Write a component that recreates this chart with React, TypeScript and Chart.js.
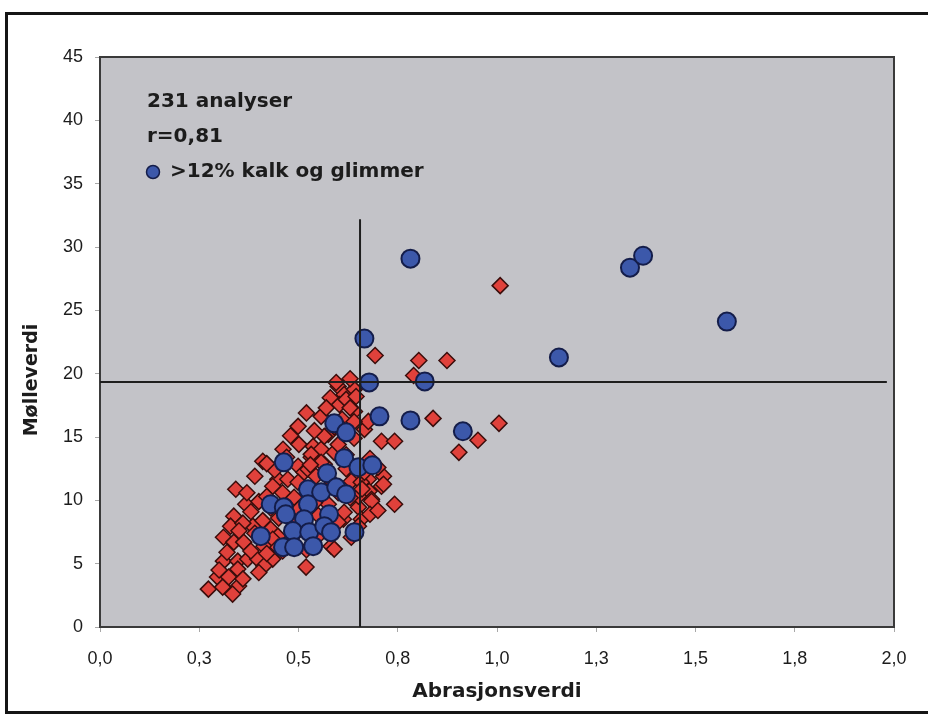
import React, { useEffect, useRef } from 'react';
import { Chart, registerables } from 'chart.js';

Chart.register(...registerables);

// ---- Data ----
const xTickLabels = ['0,0', '0,3', '0,5', '0,8', '1,0', '1,3', '1,5', '1,8', '2,0'];
const yTickLabels = ['0', '5', '10', '15', '20', '25', '30', '35', '40', '45'];

const xAxisTitle = 'Abrasjonsverdi';
const yAxisTitle = 'Mølleverdi';
const noteLines = ['231 analyser', 'r=0,81'];
const legendLabel = '>12% kalk og glimmer';

// samples with >12% calcite and mica (blue circles): [abrasjonsverdi, mølleverdi]
const blueSamples: [number, number][] = [
  [0.782, 29.08], [1.335, 28.37], [1.368, 29.31], [1.579, 24.11], [1.156, 21.28],
  [0.666, 22.77], [0.678, 19.31], [0.818, 19.39], [0.704, 16.63], [0.782, 16.31],
  [0.914, 15.45], [0.590, 16.08], [0.620, 15.37], [0.463, 13.00], [0.615, 13.32],
  [0.651, 12.61], [0.686, 12.77], [0.572, 12.14], [0.524, 10.87], [0.557, 10.64],
  [0.595, 11.03], [0.620, 10.48], [0.430, 9.69], [0.463, 9.46], [0.468, 8.90],
  [0.524, 9.69], [0.577, 8.90], [0.514, 8.51], [0.486, 7.57], [0.527, 7.49],
  [0.565, 7.96], [0.582, 7.49], [0.641, 7.49], [0.405, 7.17], [0.461, 6.30],
  [0.489, 6.30], [0.537, 6.38],
];

// other samples (red diamonds)
const redSamples: [number, number][] = [
  [0.600, 18.99], [0.615, 18.36], [0.641, 18.76], [0.641, 17.02], [0.603, 17.57],
  [0.557, 16.63], [0.499, 15.84], [0.575, 15.21], [0.666, 15.60], [0.676, 16.23],
  [0.709, 14.66], [0.742, 14.66], [0.461, 14.03], [0.410, 13.08], [0.501, 14.42],
  [0.537, 14.26], [0.557, 14.03], [0.532, 13.40], [0.565, 12.84], [0.499, 12.69],
  [0.514, 12.21], [0.448, 11.66], [0.473, 11.66], [0.435, 11.11], [0.499, 11.43],
  [0.641, 11.90], [0.676, 11.66], [0.714, 11.90], [0.678, 10.72], [0.709, 11.11],
  [0.342, 10.87], [0.367, 9.69], [0.473, 10.09], [0.489, 10.24], [0.684, 10.09],
  [0.742, 9.69], [0.651, 9.46], [0.658, 8.51], [0.337, 8.75], [0.329, 7.96],
  [0.385, 7.96], [0.430, 7.72], [0.448, 7.17], [0.613, 8.51], [0.651, 7.96],
  [0.311, 7.09], [0.337, 6.70], [0.362, 6.70], [0.435, 6.93], [0.413, 6.38],
  [0.448, 6.30], [0.582, 6.38], [0.311, 5.20], [0.347, 5.20], [0.372, 5.36],
  [0.397, 5.36], [0.435, 5.36], [0.413, 4.81], [0.347, 4.57], [0.519, 4.73],
  [0.296, 3.94], [0.324, 3.94], [0.273, 2.99], [0.309, 3.15], [0.349, 3.23],
  [0.334, 2.60],
  [0.693, 21.43], [0.803, 21.04], [0.874, 21.04], [0.790, 19.86], [0.839, 16.47],
  [1.005, 16.08], [0.952, 14.74], [0.904, 13.79], [1.008, 26.95],
  [0.595, 19.30], [0.620, 17.97], [0.630, 19.60], [0.580, 18.10], [0.645, 18.20],
  [0.565, 15.05], [0.532, 13.63], [0.590, 13.79], [0.557, 13.00], [0.524, 12.45],
  [0.544, 11.90], [0.633, 11.50], [0.658, 11.43], [0.666, 12.21], [0.714, 11.27],
  [0.684, 9.93], [0.651, 10.32], [0.615, 9.06], [0.600, 8.27], [0.575, 9.69],
  [0.557, 7.96], [0.539, 7.17], [0.633, 7.09], [0.590, 6.15],
  [0.470, 9.00], [0.500, 9.30], [0.540, 9.80], [0.560, 10.50], [0.520, 10.90],
  [0.450, 8.60], [0.490, 8.20], [0.550, 8.80], [0.600, 10.60], [0.580, 11.60],
  [0.620, 12.50], [0.530, 12.80], [0.460, 10.60], [0.430, 9.40], [0.410, 8.40],
  [0.390, 7.40], [0.400, 9.90], [0.380, 9.10], [0.360, 8.20], [0.420, 10.30],
  [0.440, 12.40], [0.470, 13.40], [0.600, 14.40], [0.620, 13.60], [0.680, 13.30],
  [0.700, 12.60], [0.640, 14.90], [0.590, 15.80], [0.610, 16.40], [0.540, 15.50],
  [0.660, 10.90], [0.630, 10.20], [0.680, 8.90], [0.700, 9.20], [0.570, 8.40],
  [0.500, 7.60], [0.460, 6.00], [0.520, 6.10], [0.550, 7.20], [0.480, 6.90],
  [0.380, 6.00], [0.400, 4.30], [0.300, 4.50], [0.360, 3.80], [0.420, 5.80],
  [0.320, 5.90], [0.350, 7.60], [0.370, 10.60], [0.390, 11.90], [0.420, 12.90],
  [0.480, 15.10], [0.520, 16.90], [0.570, 17.30], [0.600, 16.00], [0.630, 17.30],
  [0.640, 16.20],
];

// reference lines (limit values)
const verticalLine: [number, number][] = [[0.655, 0], [0.655, 32.2]];
const horizontalLine: [number, number][] = [[0, 19.35], [1.982, 19.35]];

// ---- Styles ----
const BLUE = '#3c58aa';
const BLUE_EDGE = '#141d4a';
const RED = '#e0413b';
const RED_EDGE = '#3a0d0b';
const PLOT_BG = '#c3c3c8';
const TEXT = '#1c1c1c';
const BOLD_FONT = '"DejaVu Sans", "Liberation Sans", Arial, sans-serif';
const TICK_FONT = '"Liberation Sans", Arial, sans-serif';

const toPts = (arr: [number, number][]) => arr.map(([x, y]) => ({ x, y }));

const decorPlugin = {
  id: 'decor',
  beforeDraw(chart: any) {
    const { ctx, chartArea } = chart;
    const { left, top, right, bottom } = chartArea;
    ctx.save();
    ctx.fillStyle = PLOT_BG;
    ctx.fillRect(left, top, right - left, bottom - top);
    ctx.restore();
  },
  beforeDatasetsDraw(chart: any) {
    const { ctx, chartArea } = chart;
    const { left, top, right, bottom } = chartArea;
    ctx.save();
    ctx.strokeStyle = '#3a3a3a';
    ctx.lineWidth = 2;
    ctx.strokeRect(left, top, right - left, bottom - top);
    ctx.restore();
  },
  afterDraw(chart: any) {
    const { ctx, chartArea } = chart;
    const { left, top } = chartArea;
    ctx.save();
    ctx.fillStyle = TEXT;
    ctx.font = `bold 20px ${BOLD_FONT}`;
    ctx.textBaseline = 'middle';
    ctx.textAlign = 'left';
    ctx.fillText(noteLines[0], left + 47, top + 45);
    ctx.fillText(noteLines[1], left + 47, top + 80);
    // legend marker
    ctx.beginPath();
    ctx.arc(left + 53, top + 115, 6.5, 0, Math.PI * 2);
    ctx.fillStyle = BLUE;
    ctx.fill();
    ctx.lineWidth = 1.5;
    ctx.strokeStyle = BLUE_EDGE;
    ctx.stroke();
    ctx.fillStyle = TEXT;
    ctx.fillText(legendLabel, left + 70, top + 115);
    // y-axis title
    ctx.save();
    ctx.translate(32, 380);
    ctx.rotate(-Math.PI / 2);
    ctx.textAlign = 'center';
    ctx.font = `bold 19px ${BOLD_FONT}`;
    ctx.fillText(yAxisTitle, 0, 0);
    ctx.restore();
    ctx.restore();
  },
};

export default function App() {
  const canvasRef = useRef<HTMLCanvasElement | null>(null);

  useEffect(() => {
    if (!canvasRef.current) return;
    const chart = new Chart(canvasRef.current, {
      type: 'scatter',
      data: {
        datasets: [
          {
            type: 'line',
            data: toPts(verticalLine),
            showLine: true,
            borderColor: '#1e1e1e',
            borderWidth: 2,
            pointRadius: 0,
            fill: false,
          } as any,
          {
            type: 'line',
            data: toPts(horizontalLine),
            showLine: true,
            borderColor: '#1e1e1e',
            borderWidth: 2,
            pointRadius: 0,
            fill: false,
          } as any,
          {
            data: toPts(blueSamples),
            pointStyle: 'circle',
            pointRadius: 9,
            backgroundColor: BLUE,
            borderColor: BLUE_EDGE,
            borderWidth: 2,
          },
          {
            data: toPts(redSamples),
            pointStyle: 'rectRot',
            pointRadius: 8,
            backgroundColor: RED,
            borderColor: RED_EDGE,
            borderWidth: 1.5,
          },
        ],
      },
      options: {
        animation: false,
        responsive: false,
        events: [],
        layout: { padding: { left: 0, right: 34, top: 57, bottom: 0 } },
        plugins: {
          legend: { display: false },
          tooltip: { enabled: false },
        },
        scales: {
          x: {
            type: 'linear',
            min: 0,
            max: 2,
            afterFit: (scale: any) => { scale.height = 89; },
            ticks: {
              stepSize: 0.25,
              autoSkip: false,
              maxRotation: 0,
              padding: 16,
              color: TEXT,
              font: { family: TICK_FONT, size: 18 },
              callback: (_v: any, i: number) => xTickLabels[i],
            },
            grid: { drawOnChartArea: false, drawTicks: true, tickLength: 5, color: '#a8a8a8' },
            border: { display: false },
            title: {
              display: true,
              text: xAxisTitle,
              color: TEXT,
              font: { family: BOLD_FONT, size: 20, weight: 'bold' },
              padding: { top: 0, bottom: 12 },
            },
          },
          y: {
            type: 'linear',
            min: 0,
            max: 45,
            afterFit: (scale: any) => { scale.width = 100; },
            ticks: {
              stepSize: 5,
              autoSkip: false,
              padding: 12,
              color: TEXT,
              font: { family: TICK_FONT, size: 18 },
              callback: (_v: any, i: number) => yTickLabels[i],
            },
            grid: { drawOnChartArea: false, drawTicks: true, tickLength: 5, color: '#a8a8a8' },
            border: { display: false },
          },
        },
      },
      plugins: [decorPlugin],
    });
    return () => chart.destroy();
  }, []);

  return (
    <>
      <div
        style={{
          position: 'fixed',
          left: 5,
          top: 12,
          width: 920,
          height: 696,
          borderTop: '3px solid #151515',
          borderLeft: '3px solid #151515',
          borderBottom: '3px solid #151515',
          background: '#ffffff',
        }}
      />
      <canvas
        ref={canvasRef}
        width={928}
        height={716}
        style={{ position: 'fixed', left: 0, top: 0, width: 928, height: 716 }}
      />
    </>
  );
}
